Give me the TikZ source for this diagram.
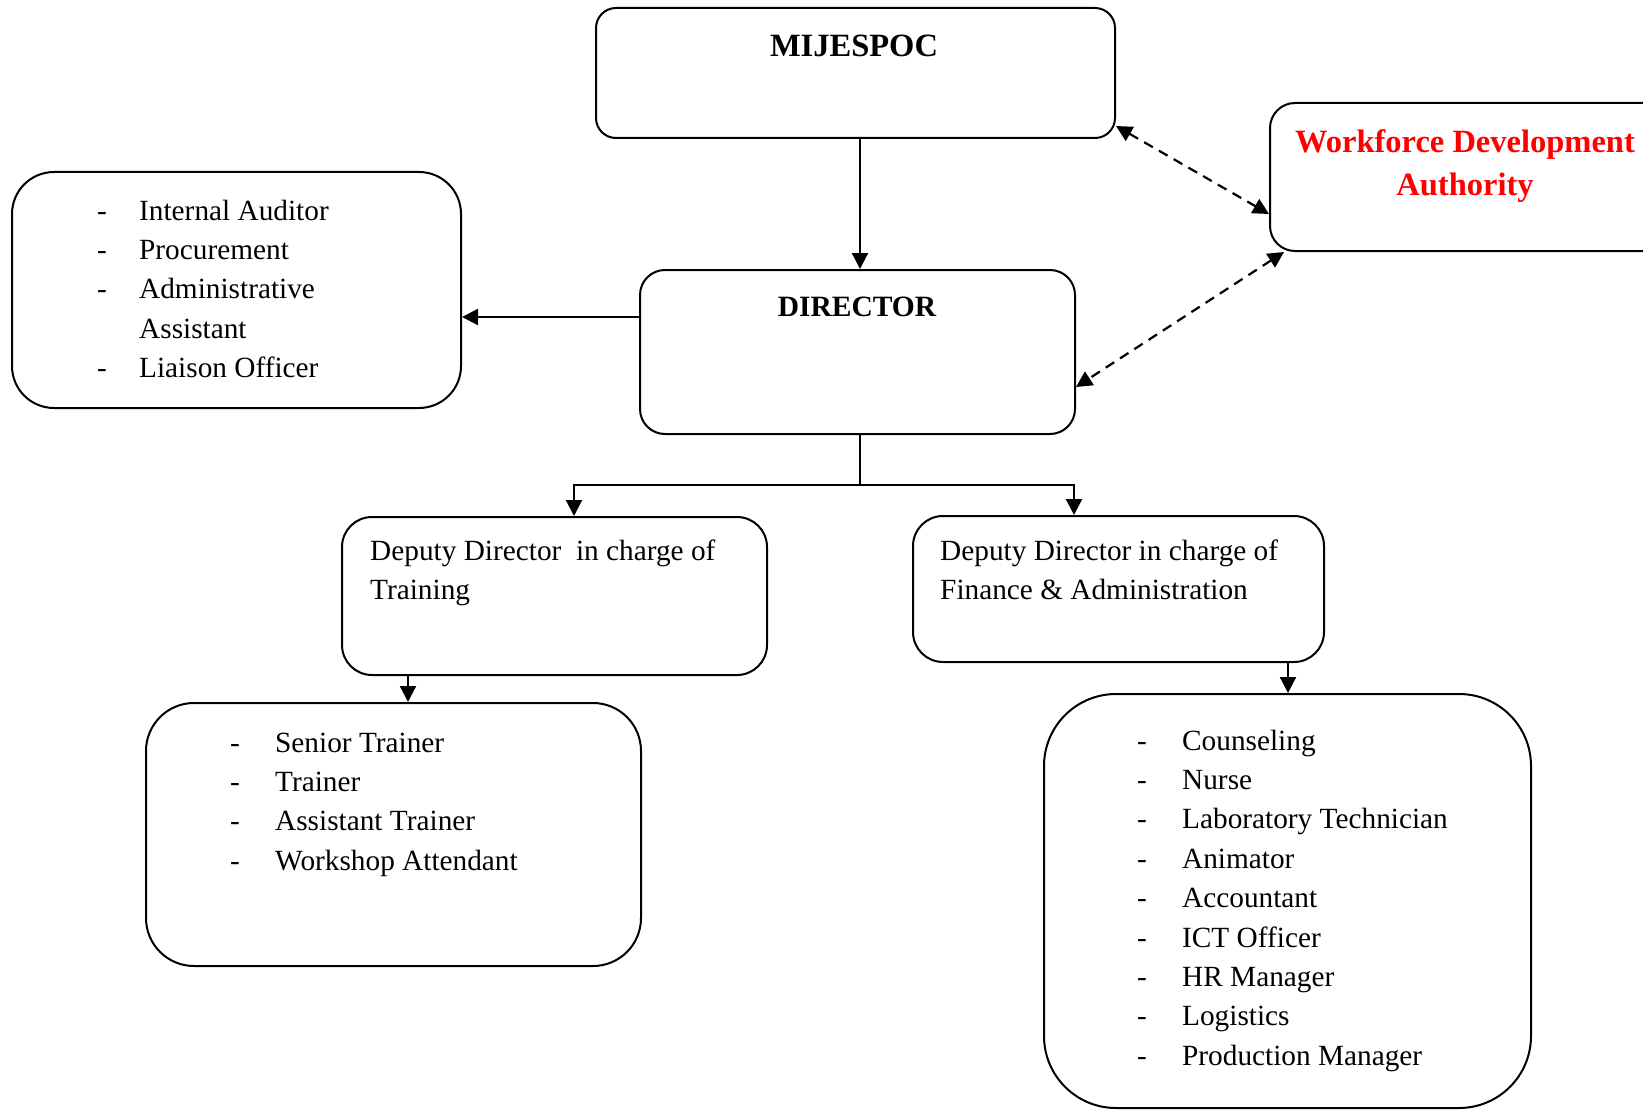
\documentclass[tikz,border=0pt]{standalone}
\usepackage{fontspec}
\setmainfont{Liberation Serif}
\usetikzlibrary{arrows.meta}
\newcommand{\bodyfont}{\fontsize{29.3}{39.4}\selectfont}
\newcommand{\headfont}{\fontsize{32.5}{43.5}\selectfont\bfseries}
\newcommand{\itm}[2][45pt]{\makebox[#1][l]{-}#2}

\begin{document}
\begin{tikzpicture}[x=1pt,y=-1pt,>={Triangle[length=16pt,width=16pt]},
  box/.style={draw,line width=2pt,inner sep=0pt},
  head/.style={font=\headfont,inner sep=0pt},
  body/.style={font=\bodyfont,align=left,inner sep=0pt,anchor=north west},
  link/.style={line width=2.2pt,->},
  dlink/.style={line width=2.2pt,dash pattern=on 10pt off 7pt,<->}]
\useasboundingbox (0,0) rectangle (1643,1110);
\node[box,rounded corners=20pt,minimum width=519pt,minimum height=130pt] (mij) at (855.5,73) {};
\node[box,rounded corners=25pt,minimum width=420pt,minimum height=148pt] (wda) at (1480,177) {};
\node[box,rounded corners=42pt,minimum width=449pt,minimum height=236pt] (staff) at (236.5,290) {};
\node[box,rounded corners=25pt,minimum width=435pt,minimum height=164pt] (dir) at (857.5,352) {};
\node[box,rounded corners=30pt,minimum width=425pt,minimum height=158pt] (dtr) at (554.5,596) {};
\node[box,rounded corners=30pt,minimum width=411pt,minimum height=146pt] (dfa) at (1118.5,589) {};
\node[box,rounded corners=48pt,minimum width=495pt,minimum height=263pt] (trn) at (393.5,834.5) {};
\node[box,rounded corners=72pt,minimum width=487pt,minimum height=414pt] (fin) at (1287.5,901) {};

\node[head,anchor=base] (mijt) at (854,57) {MIJESPOC};
\node[head,anchor=base,font=\fontsize{29.5}{40}\selectfont\bfseries] (dirt) at (857,316) {DIRECTOR};
\node[head,align=center,anchor=north,text=red] (wdat) at (1465,121.5)
  {\strut Workforce Development\\Authority};
\node[body] (stafft) at (97,192.4) {\strut\itm[42pt]{Internal Auditor}\\
  \itm[42pt]{Procurement}\\ \itm[42pt]{Administrative}\\
  \hspace*{42pt}Assistant\\ \itm[42pt]{Liaison Officer}};
\node[body] (dtrt) at (370,532.4) {\strut Deputy Director~ in charge of\\Training};
\node[body] (dfat) at (940,532.4) {\strut Deputy Director in charge of\\Finance \& Administration};
\node[body] (trnt) at (230,724.4) {\strut\itm{Senior Trainer}\\ \itm{Trainer}\\
  \itm{Assistant Trainer}\\ \itm{Workshop Attendant}};
\node[body] (fint) at (1137,722.4) {\strut\itm{Counseling}\\ \itm{Nurse}\\
  \itm{Laboratory Technician}\\ \itm{Animator}\\ \itm{Accountant}\\
  \itm{ICT Officer}\\ \itm{HR Manager}\\ \itm{Logistics}\\ \itm{Production Manager}};

\coordinate (fork) at ([xshift=2.5pt,yshift=-50pt]dir.south);
\draw[link] ([xshift=4.5pt]mij.south) -- ([xshift=4.5pt]mij.south |- dir.north);
\draw[link] ([yshift=35pt]dir.west) -- ([yshift=35pt]dir.west -| staff.east);
\draw[line width=2.2pt] ([xshift=2.5pt]dir.south) -- (fork);
\draw[link] (fork) -| ([xshift=19.5pt]dtr.north);
\draw[link] (fork) -| ([xshift=-44.5pt]dfa.north);
\draw[link] ([xshift=-146.5pt]dtr.south) -- ([xshift=-146.5pt]dtr.south |- trn.north);
\draw[link] ([xshift=169.5pt]dfa.south) -- ([xshift=169.5pt]dfa.south |- fin.north);
\draw[dlink] ([yshift=13pt]mij.south east) -- ([yshift=-37pt]wda.west);
\draw[dlink] ([xshift=15pt]wda.south west) -- ([yshift=-35pt]dir.east);
\end{tikzpicture}
\end{document}
